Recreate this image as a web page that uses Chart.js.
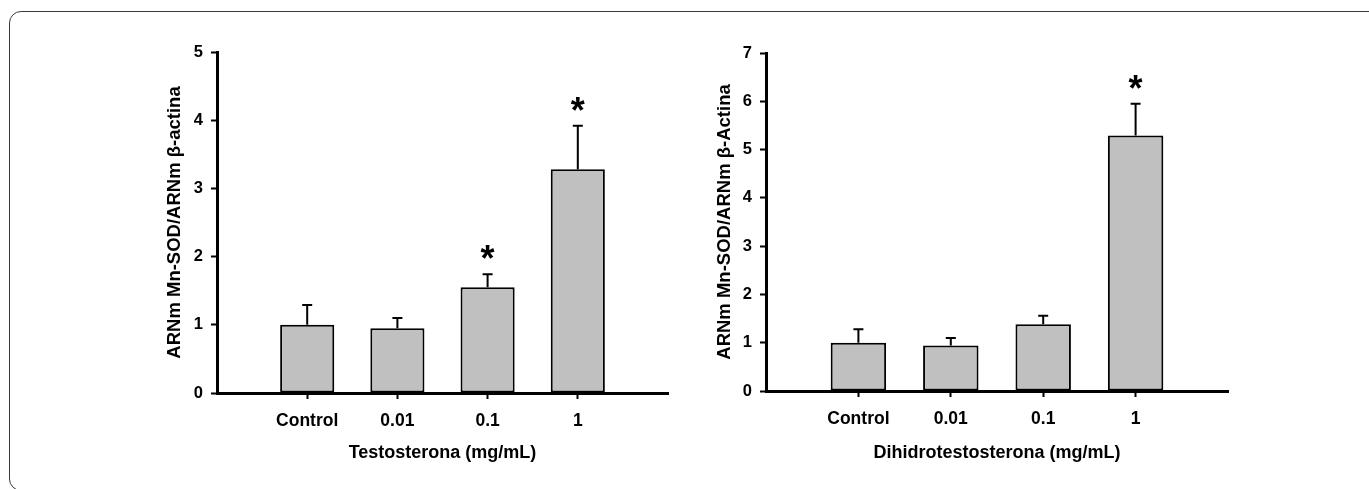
<!DOCTYPE html>
<html>
<head>
<meta charset="utf-8">
<script src="https://cdn.jsdelivr.net/npm/chart.js@4.4.1/dist/chart.umd.min.js"></script>
<style>
  body { margin: 0; background: #fff; width: 1369px; height: 489px; overflow: hidden; position: relative; }
  #frame { position: absolute; left: 9px; top: 11px; width: 1420px; height: 480px; border: 1.5px solid #3a3a3a; border-radius: 12px; box-sizing: border-box; }
  canvas { position: absolute; }
</style>
</head>
<body>
<div id="frame"></div>
<canvas id="left" width="540" height="440" style="left:150px;top:30px"></canvas>
<canvas id="right" width="560" height="440" style="left:700px;top:30px"></canvas>
<script>
// categories (doses)
let doses = ['Control', '0.01', '0.1', '1'];

// Testosterona
let testoMean = [1.0, 0.95, 1.55, 3.28];
let testoErr = [0.29, 0.15, 0.19, 0.64];
let testoStars = ['', '', '*', '*'];
let testoTicks = [0, 1, 2, 3, 4, 5];

// Dihidrotestosterona
let dhtMean = [1.0, 0.94, 1.38, 5.29];
let dhtErr = [0.28, 0.16, 0.18, 0.66];
let dhtStars = ['', '', '', '*'];
let dhtTicks = [0, 1, 2, 3, 4, 5, 6, 7];

let font = '"Liberation Sans", Arial, sans-serif';

// error bars (upper half only) + significance stars
let errPlugin = (errs, stars) => ({
    id: 'errbars',
    afterDatasetsDraw(chart) {
        let ctx = chart.ctx;
        let y = chart.scales.y;
        let vals = chart.data.datasets[0].data;
        ctx.save();
        ctx.strokeStyle = '#000';
        ctx.fillStyle = '#000';
        ctx.lineWidth = 2;
        ctx.font = 'bold 36px ' + font;
        ctx.textAlign = 'center';
        ctx.textBaseline = 'alphabetic';
        chart.getDatasetMeta(0).data.forEach((bar, i) => {
            let top = y.getPixelForValue(vals[i].y);
            let cap = y.getPixelForValue(vals[i].y + errs[i]);
            ctx.beginPath();
            ctx.moveTo(bar.x, top);
            ctx.lineTo(bar.x, cap);
            ctx.moveTo(bar.x - 5, cap);
            ctx.lineTo(bar.x + 5, cap);
            ctx.stroke();
            if (stars[i]) ctx.fillText(stars[i], bar.x, cap - 3);
        });
        ctx.restore();
    }
});

let makeChart = (id, means, errs, stars, ticks, yTitle, xTitle, box) => {
    let ctx = document.getElementById(id).getContext('2d');
    return new Chart(ctx, {
        type: 'bar',
        data: {
            datasets: [{
                data: means.map((v, i) => ({ x: i + 1, y: v })),
                backgroundColor: '#c0c0c0',
                borderColor: '#000',
                borderWidth: 2,
                borderSkipped: false,
                barPercentage: 0.6,
                categoryPercentage: 1
            }]
        },
        options: {
            responsive: false,
            animation: false,
            devicePixelRatio: 1,
            layout: { padding: { top: box.top, right: box.right, left: 0, bottom: 0 } },
            plugins: { legend: { display: false }, tooltip: { enabled: false } },
            scales: {
                x: {
                    type: 'linear',
                    min: 0,
                    max: doses.length + 1,
                    offset: false,
                    z: 1,
                    afterBuildTicks: s => { s.ticks = doses.map((d, i) => ({ value: i + 1 })) },
                    afterFit: s => { s.height = box.xh },
                    ticks: {
                        callback: v => doses[v - 1],
                        color: '#000',
                        padding: 12,
                        font: { family: font, size: 17.5, weight: 'bold' }
                    },
                    grid: { offset: false, drawOnChartArea: false, tickLength: 6, tickWidth: 2, tickColor: '#000' },
                    border: { display: true, color: '#000', width: 3 },
                    title: {
                        display: true,
                        text: xTitle,
                        color: '#000',
                        padding: { top: 0, bottom: 6 },
                        font: { family: font, size: 18, weight: 'bold' }
                    }
                },
                y: {
                    min: ticks[0],
                    max: ticks[ticks.length - 1],
                    z: 1,
                    afterBuildTicks: s => { s.ticks = ticks.map(v => ({ value: v })) },
                    afterFit: s => { s.width = box.yw },
                    ticks: {
                        color: '#000',
                        padding: 8,
                        font: { family: font, size: 16.5, weight: 'bold' }
                    },
                    grid: { drawOnChartArea: false, tickLength: 6, tickWidth: 2, tickColor: '#000' },
                    border: { display: true, color: '#000', width: 3 },
                    title: {
                        display: true,
                        text: yTitle,
                        color: '#000',
                        padding: { top: 14, bottom: 0 },
                        font: { family: font, size: 18.5, weight: 'bold' }
                    }
                }
            }
        },
        plugins: [errPlugin(errs, stars)]
    });
};

makeChart('left', testoMean, testoErr, testoStars, testoTicks,
    'ARNm Mn-SOD/ARNm \u03b2-actina', 'Testosterona (mg/mL)',
    { top: 22, right: 22, yw: 67, xh: 77 });

makeChart('right', dhtMean, dhtErr, dhtStars, dhtTicks,
    'ARNm Mn-SOD/ARNm \u03b2-Actina', 'Dihidrotestosterona (mg/mL)',
    { top: 23, right: 32, yw: 66, xh: 79 });
</script>
</body>
</html>
